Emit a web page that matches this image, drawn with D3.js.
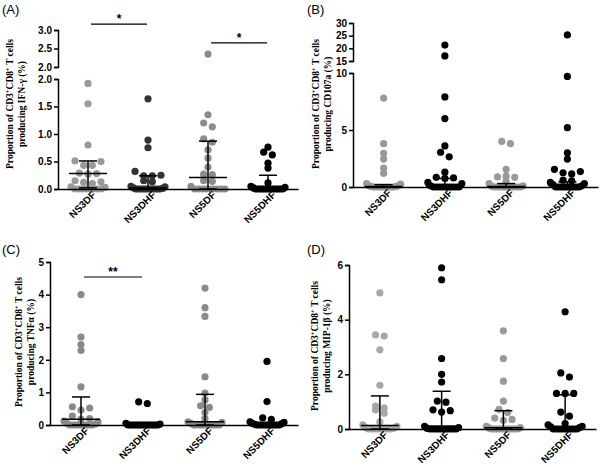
<!DOCTYPE html>
<html><head><meta charset="utf-8">
<script src="https://cdn.jsdelivr.net/npm/d3@7"></script>
<style>body{margin:0;background:#fff} svg{display:block}</style>
</head><body>
<svg id="c" width="600" height="467"></svg>
<script>
const categories = ["NS3DF","NS3DHF","NS5DF","NS5DHF"];

// (A) IFN-γ
const ifnNS3DF  = [1.92,1.55,0.80,0.51,0.50,0.43,0.43,0.29,0.28,0.27,0.15,0.13,0.12,0.10,0.04,0.03,0,0,0,0,0,0,0,0];
const ifnNS3DHF = [1.64,0.89,0.75,0.32,0.25,0.24,0.24,0.15,0.13,0.05,0.04,0.02,0.01,0,0,0,0,0,0,0,0,0,0,0];
const ifnNS5DF  = [2.35,1.35,1.20,1.13,0.91,0.85,0.71,0.56,0.40,0.27,0.26,0.15,0.14,0.05,0,0,0,0,0,0,0,0,0];
const ifnNS5DHF = [0.76,0.67,0.62,0.47,0.38,0.11,0.05,0.03,0.02,0,0,0,0,0,0,0,0,0,0,0,0,0];
const ifnMedian = [0.28,0.02,0.21,0.02];
const ifnQ1     = [0.02,0,0,0];
const ifnQ3     = [0.51,0.24,0.87,0.25];
const ifnLowerTicks = [0,0.5,1.0,1.5,2.0];
const ifnUpperTicks = [2.0,2.5,3.0];

// (B) CD107a
const cdNS3DF  = [7.8,3.8,2.95,2.45,1.65,1.2,0.3,0.25,0.1,0.1,0.05,0.05,0,0,0,0,0,0,0,0,0,0];
const cdNS3DHF = [21.3,17,7.9,6.0,3.6,3.05,2.65,1.3,0.85,0.8,0.75,0.4,0.3,0.1,0,0,0,0,0,0,0,0,0,0];
const cdNS5DF  = [4.0,3.8,1.55,0.95,0.9,0.85,0.5,0.3,0.1,0.05,0,0,0,0,0,0,0,0,0,0,0];
const cdNS5DHF = [25.3,9.7,5.2,3.0,2.45,1.55,1.35,1.25,1.15,0.6,0.55,0.4,0.3,0.2,0.1,0,0,0,0,0,0,0,0,0,0];
const cdMedian = [0.05,0.05,0.05,0.1];
const cdQ1     = [0,0,0,0];
const cdQ3     = [0.2,0.75,0.3,0.45];
const cdLowerTicks = [0,5,10];
const cdUpperTicks = [15,20,25,30];

// (C) TNFα
const tnfNS3DF  = [4.0,2.7,2.47,2.29,1.17,0.56,0.52,0.46,0.27,0.2,0.18,0.12,0.1,0.05,0.03,0,0,0,0,0,0,0,0,0];
const tnfNS3DHF = [0.71,0.66,0.05,0.03,0,0,0,0,0,0,0,0,0,0,0,0,0,0,0,0];
const tnfNS5DF  = [4.2,3.6,3.33,1.48,0.98,0.77,0.59,0.54,0.38,0.2,0.1,0.08,0.05,0,0,0,0,0,0,0,0,0,0];
const tnfNS5DHF = [1.95,0.72,0.22,0.17,0.1,0.08,0.05,0.04,0.02,0,0,0,0,0,0,0,0,0,0,0];
const tnfMedian = [0.18,0,0.1,0.02];
const tnfQ1     = [0,0,0,0];
const tnfQ3     = [0.86,0.02,0.94,0.05];
const tnfTicks  = [0,1,2,3,4,5];

// (D) MIP-1β
const mipNS3DF  = [4.98,3.44,3.4,2.9,1.6,0.84,0.77,0.7,0.58,0.26,0.15,0.1,0.05,0.03,0,0,0,0,0,0,0,0,0];
const mipNS3DHF = [5.9,5.46,2.58,2.0,1.72,1.02,0.98,0.7,0.67,0.62,0.1,0.05,0.02,0,0,0,0,0,0,0,0,0,0,0];
const mipNS5DF  = [3.59,2.58,1.75,1.02,0.72,0.6,0.4,0.35,0.32,0.1,0.05,0.03,0,0,0,0,0,0,0,0,0,0,0];
const mipNS5DHF = [4.29,2.05,1.9,1.3,1.3,1.3,0.62,0.47,0.2,0.15,0.1,0.08,0.05,0,0,0,0,0,0,0,0,0,0];
const mipMedian = [0.13,0.1,0.05,0.08];
const mipQ1     = [0,0,0,0];
const mipQ3     = [1.21,1.38,0.67,1.25];
const mipTicks  = [0,2,4,6];

// significance annotations
const ifnSig = [{a:"NS3DF",b:"NS3DHF",v:3.16,text:"*"},{a:"NS5DF",b:"NS5DHF",v:2.65,text:"*"}];
const tnfSig = [{a:"NS3DF",b:"NS3DHF",v:4.54,text:"**"}];

const panels = [
  {label:"(A)", measure:"IFN-γ", groups:[ifnNS3DF,ifnNS3DHF,ifnNS5DF,ifnNS5DHF], med:ifnMedian, q1:ifnQ1, q3:ifnQ3,
   colors:["#9a9a9a","#333333","#8c8c8c","#000000"], lower:[0,2], upper:[2,3], lowerTicks:ifnLowerTicks, upperTicks:ifnUpperTicks, fmt:".1f", sig:ifnSig,
   g:{x0:58,x1:298,y0:189,yLowTop:79,yUpBot:67,yTop:30,lx:2,ly:14,yl1:13,yl2:25,ylc:104}},
  {label:"(B)", measure:"CD107a", groups:[cdNS3DF,cdNS3DHF,cdNS5DF,cdNS5DHF], med:cdMedian, q1:cdQ1, q3:cdQ3,
   colors:["#999999","#000000","#999999","#000000"], lower:[0,10], upper:[15,30], lowerTicks:cdLowerTicks, upperTicks:cdUpperTicks, fmt:"d", sig:[],
   g:{x0:353,x1:598,y0:187,yLowTop:73,yUpBot:61,yTop:23,lx:307,ly:14,yl1:319,yl2:331,ylc:104}},
  {label:"(C)", measure:"TNFα", groups:[tnfNS3DF,tnfNS3DHF,tnfNS5DF,tnfNS5DHF], med:tnfMedian, q1:tnfQ1, q3:tnfQ3,
   colors:["#8a8a8a","#000000","#8a8a8a","#000000"], lower:[0,5], upper:null, lowerTicks:tnfTicks, upperTicks:null, fmt:"d", sig:tnfSig,
   g:{x0:50,x1:298,y0:425,yLowTop:262,lx:2,ly:254,yl1:22,yl2:34,ylc:342}},
  {label:"(D)", measure:"MIP-1β", groups:[mipNS3DF,mipNS3DHF,mipNS5DF,mipNS5DHF], med:mipMedian, q1:mipQ1, q3:mipQ3,
   colors:["#a8a8a8","#000000","#999999","#000000"], lower:[0,6], upper:null, lowerTicks:mipTicks, upperTicks:null, fmt:"d", sig:[],
   g:{x0:349,x1:596,y0:429,yLowTop:265,lx:307,ly:254,yl1:318,yl2:330,ylc:346}}
];

const svg = d3.select("#c");
const R = 3.6, HALF = 17;
const sans = "'Liberation Sans', Arial, sans-serif";
const serif = "'Liberation Serif', 'Times New Roman', serif";

function swarm(vals, y, cx){
  const pts = vals.map(v=>({v, py:y(v)})).sort((a,b)=>b.py-a.py);
  const rows=[]; let cur=null;
  for(const p of pts){
    if(!cur || cur.start - p.py > R*1.3){ cur={start:p.py, pts:[]}; rows.push(cur); }
    cur.pts.push(p);
  }
  for(const row of rows){
    const n=row.pts.length;
    const sp = n>1 ? Math.min(R*2.4, 2*HALF/(n-1)) : 0;
    const offs = d3.range(n).map(i=>(i-(n-1)/2)*sp).sort((a,b)=>Math.abs(b)-Math.abs(a));
    const byVal = row.pts.slice().sort((a,b)=>b.v-a.v);
    byVal.forEach((p,i)=>{ p.px = cx + offs[i]; });
  }
  return pts;
}

panels.forEach(P=>{
  const g = P.g;
  const root = svg.append("g");
  const x = d3.scaleBand().domain(categories).range([g.x0,g.x1]).padding(0);
  const cx = c => x(c) + x.bandwidth()/2;
  const yLow = d3.scaleLinear().domain(P.lower).range([g.y0,g.yLowTop]);
  const yUp = P.upper ? d3.scaleLinear().domain(P.upper).range([g.yUpBot,g.yTop]) : null;
  const y = v => (yUp && v > P.lower[1]) ? yUp(v) : yLow(v);

  // panel label
  root.append("text").attr("x",g.lx).attr("y",g.ly).attr("font-family",sans).attr("font-size",13).text(P.label);

  // y axis label
  const yl = root.append("text").attr("transform",`translate(${g.yl1},${g.ylc}) rotate(-90)`)
    .attr("text-anchor","middle").attr("font-family",serif).attr("font-weight","bold").attr("font-size",9.5);
  yl.append("tspan").text("Proportion of CD3");
  yl.append("tspan").attr("baseline-shift","super").attr("font-size",6.5).text("+");
  yl.append("tspan").text("CD8");
  yl.append("tspan").attr("baseline-shift","super").attr("font-size",6.5).text("+");
  yl.append("tspan").text(" T cells");
  root.append("text").attr("transform",`translate(${g.yl2},${g.ylc}) rotate(-90)`)
    .attr("text-anchor","middle").attr("font-family",serif).attr("font-weight","bold").attr("font-size",9.5)
    .text(`producing ${P.measure} (%)`);

  // dots
  P.groups.forEach((vals,i)=>{
    const pts = swarm(vals, y, cx(categories[i]));
    root.append("g").selectAll("circle").data(pts).join("circle")
      .attr("cx",d=>d.px).attr("cy",d=>d.py).attr("r",R).attr("fill",P.colors[i]);
  });

  // median + IQR
  const eb = root.append("g").attr("stroke","#000").attr("stroke-width",1.5).attr("fill","none");
  categories.forEach((c,i)=>{
    const xc = cx(c);
    eb.append("line").attr("x1",xc).attr("x2",xc).attr("y1",y(P.q1[i])).attr("y2",y(P.q3[i]));
    eb.append("line").attr("x1",xc-19).attr("x2",xc+19).attr("y1",y(P.med[i])).attr("y2",y(P.med[i]));
    [P.q1[i],P.q3[i]].forEach(q=>eb.append("line").attr("x1",xc-9).attr("x2",xc+9).attr("y1",y(q)).attr("y2",y(q)));
  });

  // y axes
  const fmt = d3.format(P.fmt);
  const styleAxis = sel => {
    sel.select(".domain").attr("stroke-width",1.5);
    sel.selectAll(".tick line").attr("stroke-width",1.5);
    sel.selectAll("text").attr("font-family",sans).attr("font-weight","bold").attr("font-size",10).attr("fill","#000");
  };
  root.append("g").attr("transform",`translate(${g.x0},0)`)
    .call(d3.axisLeft(yLow).tickValues(P.lowerTicks).tickFormat(fmt).tickSizeOuter(0).tickSize(4).tickPadding(2))
    .call(styleAxis);
  if(yUp){
    root.append("g").attr("transform",`translate(${g.x0},0)`)
      .call(d3.axisLeft(yUp).tickValues(P.upperTicks).tickFormat(fmt).tickSizeOuter(0).tickSize(4).tickPadding(2))
      .call(styleAxis);
  }

  // x axis
  const xa = root.append("g").attr("transform",`translate(0,${g.y0})`)
    .call(d3.axisBottom(x).tickSizeInner(0).tickSizeOuter(0));
  xa.select(".domain").attr("stroke-width",1.5);
  xa.selectAll("text").attr("font-family",sans).attr("font-weight","bold").attr("font-size",10).attr("fill","#000")
    .attr("y",0).attr("dy","0.35em").attr("x",0).attr("text-anchor","end")
    .attr("transform","translate(6,4) rotate(-45)");

  // significance
  P.sig.forEach(s=>{
    const a = cx(s.a)+3, b = cx(s.b)-1, yy = y(s.v);
    root.append("line").attr("x1",a).attr("x2",b).attr("y1",yy).attr("y2",yy).attr("stroke","#000").attr("stroke-width",1.2);
    root.append("text").attr("x",(a+b)/2).attr("y",yy-1).attr("text-anchor","middle").attr("font-weight","bold")
      .attr("font-family",sans).attr("font-size",12).text(s.text);
  });
});
</script>
</body></html>
